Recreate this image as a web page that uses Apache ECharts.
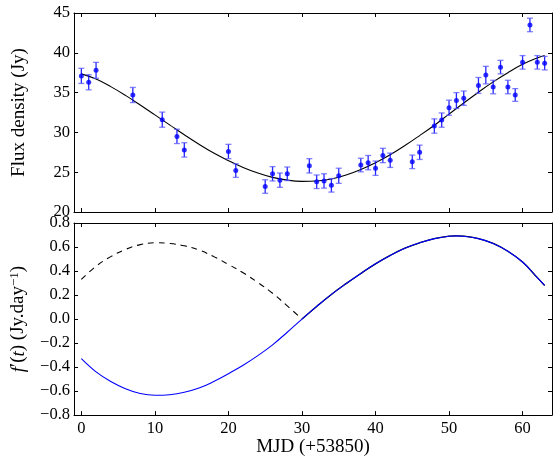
<!DOCTYPE html>
<html>
<head>
<meta charset="utf-8">
<script src="https://cdn.jsdelivr.net/npm/echarts@6/dist/echarts.min.js"></script>
<style>html,body{margin:0;padding:0;background:#fff}#c{width:555px;height:458px}</style>
</head>
<body>
<div id="c"></div>
<script>
// Observed flux densities (MJD offset, Jy, error)
const obsT = [0,1,2,7,11,13,14,20,21,25,26,27,28,31,32,33,34,35,38,39,40,41,42,45,46,48,49,50,51,52,54,55,56,57,58,59,60,61,62,63];
const obsFlux = [37.1,36.3,37.8,34.7,31.6,29.5,27.8,27.6,25.2,23.2,24.8,24.0,24.8,25.8,23.8,23.9,23.35,24.55,25.9,26.2,25.5,27.1,26.5,26.3,27.5,30.8,31.55,33.1,34.0,34.3,35.9,37.2,35.7,38.2,35.7,34.7,38.8,43.5,38.8,38.7];
const obsErr = [0.95,0.95,1.0,0.95,0.95,0.9,0.9,0.9,0.85,0.85,0.9,0.9,0.85,0.9,0.85,0.9,0.85,0.95,0.85,0.9,0.9,0.9,0.9,0.85,0.9,0.9,0.9,0.95,1.0,0.9,1.0,1.1,0.85,0.85,0.85,0.8,0.85,0.85,0.85,0.85];

// Fitted curve
const fitT = [0,2,4,6,8,10,12,14,16,18,20,22,24,26,28,30,32,34,36,38,40,42,44,46,48,50,52,54,56,58,60,62,63];
const fitFlux = [37.35,36.7,35.75,34.65,33.45,32.2,30.95,29.7,28.5,27.4,26.45,25.6,24.9,24.35,24.0,23.85,23.9,24.15,24.65,25.35,26.2,27.2,28.35,29.6,30.9,32.3,33.7,35.05,36.35,37.5,38.55,39.35,39.65];

// Derivative f'(t) (blue)
const derivT = [0,2,4,6,8,10,12,14,16,18,20,22,24,26,28,30,32,34,36,38,40,42,44,46,48,50,51,52,54,56,58,60,62,63];
const derivVal = [-0.33,-0.44,-0.52,-0.58,-0.62,-0.635,-0.63,-0.61,-0.575,-0.52,-0.455,-0.385,-0.305,-0.215,-0.11,0.0,0.105,0.205,0.295,0.38,0.46,0.53,0.59,0.635,0.67,0.69,0.693,0.69,0.67,0.63,0.565,0.475,0.345,0.28];

// |f'(t)| where f' < 0 (black dashed)
const dashT = [0,2,4,6,8,10,12,14,16,18,20,22,24,26,28,30];
const dashVal = [0.33,0.44,0.52,0.58,0.62,0.635,0.63,0.61,0.575,0.52,0.455,0.385,0.305,0.215,0.11,0.0];

// |f'(t)| where f' > 0 (black solid)
const solidT = [30,32,34,36,38,40,42,44,46,48,50,51,52,54,56,58,60,62,63];
const solidVal = [0.0,0.105,0.205,0.295,0.38,0.46,0.53,0.59,0.635,0.67,0.69,0.693,0.69,0.67,0.63,0.565,0.475,0.345,0.28];

const xTicks = [0,10,20,30,40,50,60];
const topYTicks = [20,25,30,35,40,45];
const botYTicks = [-0.8,-0.6,-0.4,-0.2,0.0,0.2,0.4,0.6,0.8];

const FONT = "'Liberation Serif', 'Times New Roman', serif";
const BLUE = '#0000ff';
const pairs = (a, b) => a.map((v, i) => [v, b[i]]);

const chart = echarts.init(document.getElementById('c'), null, {renderer: 'canvas'});

const axisLine = {show: true, onZero: false, lineStyle: {color: '#000', width: 1}};
const tickIn = {show: true, inside: true, length: 4, lineStyle: {color: '#000', width: 1}};
const lbl = {color: '#000', fontFamily: FONT, fontSize: 16.5};

function xAx(grid, pos, showLabel, name) {
  return {
    type: 'value', gridIndex: grid, position: pos, min: -1, max: 64,
    axisLine: axisLine, splitLine: {show: false},
    axisTick: Object.assign({}, tickIn, {customValues: xTicks}),
    axisLabel: Object.assign({}, lbl, {show: showLabel, customValues: xTicks, margin: 5}),
    name: name || '', nameLocation: 'middle', nameGap: 16,
    nameTextStyle: {color: '#000', fontFamily: FONT, fontSize: 19}
  };
}
function yAx(grid, pos, ticks, min, max, showLabel, fmt, name, rich) {
  return {
    type: 'value', gridIndex: grid, position: pos, min: min, max: max,
    axisLine: axisLine, splitLine: {show: false},
    axisTick: Object.assign({}, tickIn, {customValues: ticks}),
    axisLabel: Object.assign({}, lbl, {show: showLabel, customValues: ticks, margin: 4, formatter: fmt}),
    name: name || '', nameLocation: 'middle', nameRotate: 90, nameGap: 45,
    nameTextStyle: Object.assign({color: '#000', fontFamily: FONT, fontSize: 19}, rich ? {rich: rich} : {})
  };
}
const fmtBot = v => (v < -1e-9 ? '\u2212' : '') + Math.abs(v).toFixed(1);
const fmtTop = v => String(v);

const richY = {
  it: {fontFamily: FONT, fontStyle: 'italic', fontSize: 19, color: '#000'},
  n: {fontFamily: FONT, fontSize: 19, color: '#000'},
  sup: {fontFamily: FONT, fontSize: 13, color: '#000', verticalAlign: 'top', padding: [0, 0, 8, 0]}
};

const option = {
  animation: false,
  backgroundColor: '#fff',
  grid: [
    {left: 74, top: 13, width: 478, height: 199},
    {left: 74, top: 223, width: 478, height: 199}
  ],
  xAxis: [
    xAx(0, 'bottom', false),
    xAx(0, 'top', false),
    xAx(1, 'bottom', true, 'MJD (+53850)'),
    xAx(1, 'top', false)
  ],
  yAxis: [
    yAx(0, 'left', topYTicks, 20, 45, true, fmtTop, 'Flux density (Jy)'),
    yAx(0, 'right', topYTicks, 20, 45, false, fmtTop),
    yAx(1, 'left', botYTicks, -0.8, 0.8, true, fmtBot, '{it|f}{n|\u2032(}{it|t}{n|) (Jy.day}{sup|\u22121}{n|)}', richY),
    yAx(1, 'right', botYTicks, -0.8, 0.8, false, fmtBot)
  ],
  series: [
    {
      type: 'line', xAxisIndex: 0, yAxisIndex: 0, data: pairs(fitT, fitFlux),
      smooth: 0.4, symbol: 'none', lineStyle: {color: '#000', width: 1.1}, z: 2
    },
    {
      type: 'custom', xAxisIndex: 0, yAxisIndex: 0,
      data: obsT.map((t, i) => [t, obsFlux[i], obsErr[i]]),
      renderItem: function (params, api) {
        const x = api.value(0), y = api.value(1), e = api.value(2);
        const lo = api.coord([x, y - e]);
        const hi = api.coord([x, y + e]);
        const w = 3;
        return {
          type: 'group',
          children: [
            {type: 'line', shape: {x1: lo[0], y1: lo[1], x2: hi[0], y2: hi[1]}, style: {stroke: BLUE, lineWidth: 1.3, opacity: 0.85}},
            {type: 'line', shape: {x1: lo[0] - w, y1: lo[1], x2: lo[0] + w, y2: lo[1]}, style: {stroke: '#5555ff', lineWidth: 1.3, opacity: 0.75}},
            {type: 'line', shape: {x1: hi[0] - w, y1: hi[1], x2: hi[0] + w, y2: hi[1]}, style: {stroke: '#5555ff', lineWidth: 1.3, opacity: 0.75}}
          ]
        };
      },
      z: 3
    },
    {
      type: 'scatter', xAxisIndex: 0, yAxisIndex: 0, data: pairs(obsT, obsFlux),
      symbol: 'circle', symbolSize: 5, itemStyle: {color: BLUE}, z: 4
    },
    {
      type: 'line', xAxisIndex: 2, yAxisIndex: 2, data: pairs(dashT, dashVal),
      smooth: 0.4, symbol: 'none', lineStyle: {color: '#000', width: 1.1, type: [6, 5]}, z: 2
    },
    {
      type: 'line', xAxisIndex: 2, yAxisIndex: 2, data: pairs(solidT, solidVal),
      smooth: 0.4, symbol: 'none', lineStyle: {color: '#000', width: 1.3}, z: 2
    },
    {
      type: 'line', xAxisIndex: 2, yAxisIndex: 2, data: pairs(derivT, derivVal),
      smooth: 0.4, symbol: 'none', lineStyle: {color: BLUE, width: 1.1}, z: 3
    }
  ]
};
chart.setOption(option);
</script>
</body>
</html>
